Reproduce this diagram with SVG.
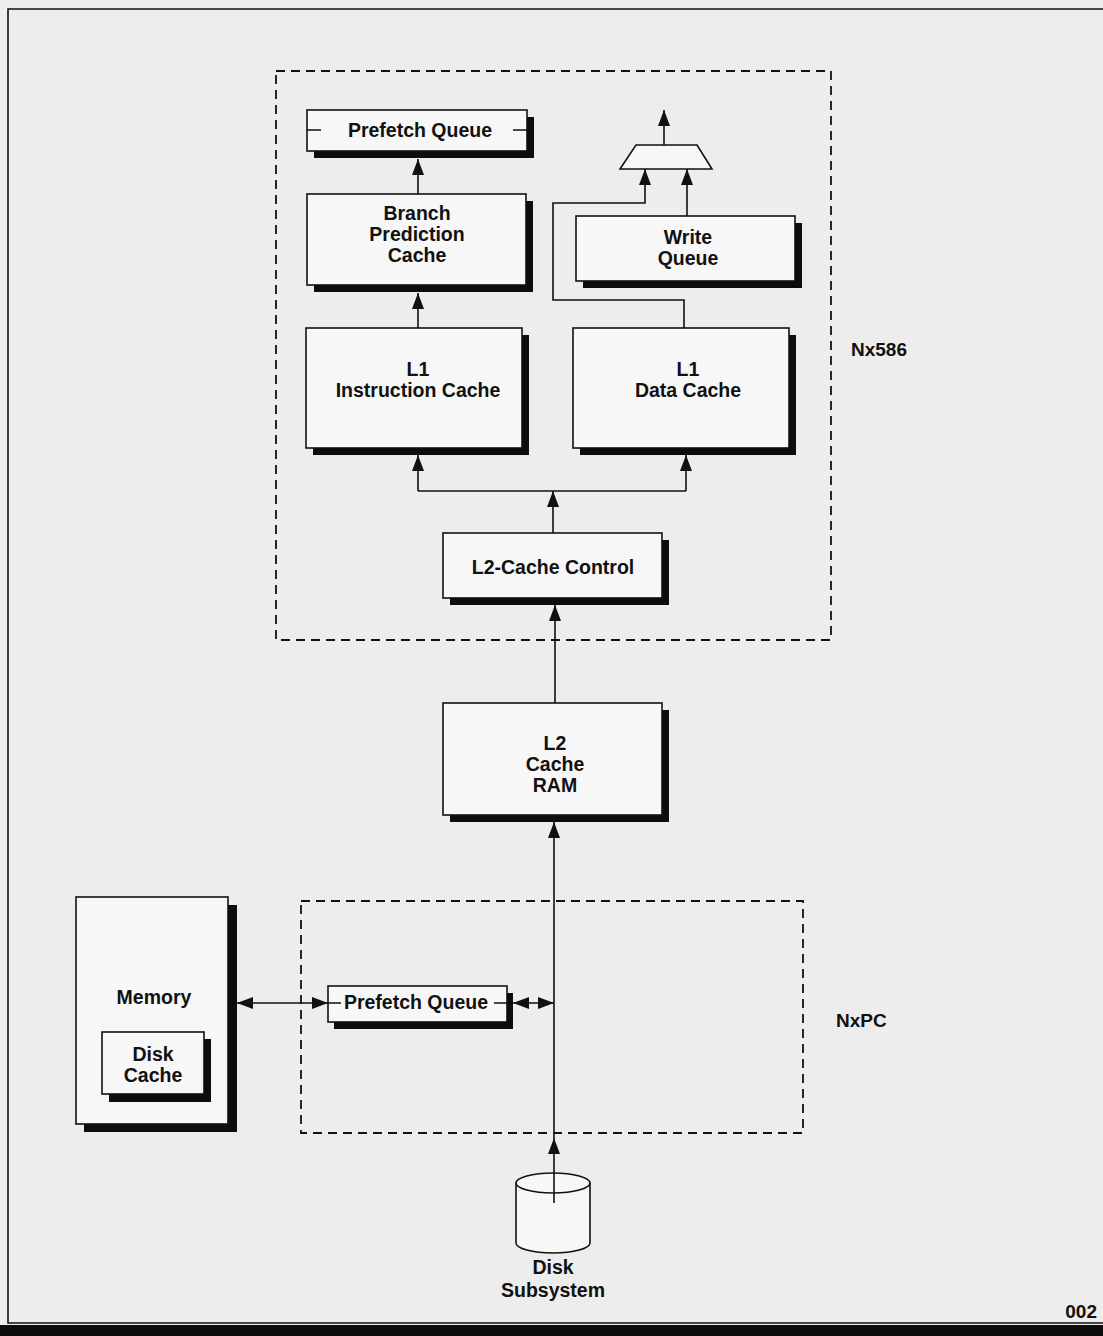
<svg xmlns="http://www.w3.org/2000/svg" width="1103" height="1336" viewBox="0 0 1103 1336">
<defs>
<style>
.bg{fill:#ededed}
.box{fill:#f7f7f7;stroke:#111;stroke-width:1.6}
.sh{fill:#0d0d0d}
.t{font-family:"Liberation Sans",Arial,Helvetica,sans-serif;font-weight:bold;font-size:19.5px;fill:#111;text-anchor:middle}
.lbl{font-family:"Liberation Sans",Arial,Helvetica,sans-serif;font-weight:bold;font-size:19px;fill:#111}
.ln{fill:none;stroke:#111;stroke-width:1.6}
.dash{fill:none;stroke:#111;stroke-width:1.8;stroke-dasharray:9 6}
</style>
<marker id="arr" markerUnits="userSpaceOnUse" markerWidth="17" markerHeight="12" refX="16" refY="6" orient="auto-start-reverse" viewBox="0 0 17 12">
<path d="M0,0 L16,6 L0,12 z" fill="#111"/>
</marker>
</defs>
<rect class="bg" x="0" y="0" width="1103" height="1336"/>
<!-- page frame -->
<path class="ln" d="M1103,9 H8 V1323 H1103" stroke-width="1.8"/>
<rect x="0" y="1325" width="1103" height="11" fill="#0d0d0d"/>
<text class="lbl" x="1097" y="1318" font-size="15" text-anchor="end">002</text>

<g id="nx586">
<rect class="dash" x="276" y="71" width="555" height="569"/>
<text class="lbl" x="851" y="356">Nx586</text>
</g>
<g id="nxpc">
<rect class="dash" x="301" y="901" width="502" height="232"/>
<text class="lbl" x="836" y="1027">NxPC</text>
</g>

<g id="prefetch-top">
<rect class="sh" x="314" y="117" width="220" height="41"/>
<rect class="box" x="307" y="110" width="220" height="41"/>
<path class="ln" d="M307,130 H321 M513,130 H527"/>
<text class="t" x="420" y="137">Prefetch Queue</text>
</g>

<g id="branch-prediction">
<rect class="sh" x="314" y="201" width="219" height="91"/>
<rect class="box" x="307" y="194" width="219" height="91"/>
<text class="t" x="417" y="220">Branch</text>
<text class="t" x="417" y="241">Prediction</text>
<text class="t" x="417" y="262">Cache</text>
</g>

<g id="mux">
<path class="box" d="M620,169 L636,145 L697,145 L712,169 Z"/>
</g>

<g id="write-queue">
<rect class="sh" x="583" y="223" width="219" height="65"/>
<rect class="box" x="576" y="216" width="219" height="65"/>
<text class="t" x="688" y="244">Write</text>
<text class="t" x="688" y="265">Queue</text>
</g>

<g id="l1-instruction">
<rect class="sh" x="313" y="335" width="216" height="120"/>
<rect class="box" x="306" y="328" width="216" height="120"/>
<text class="t" x="418" y="376">L1</text>
<text class="t" x="418" y="397">Instruction Cache</text>
</g>

<g id="l1-data">
<rect class="sh" x="580" y="335" width="216" height="120"/>
<rect class="box" x="573" y="328" width="216" height="120"/>
<text class="t" x="688" y="376">L1</text>
<text class="t" x="688" y="397">Data Cache</text>
</g>

<g id="l2-control">
<rect class="sh" x="450" y="540" width="219" height="65"/>
<rect class="box" x="443" y="533" width="219" height="65"/>
<text class="t" x="553" y="574">L2-Cache Control</text>
</g>

<g id="l2-ram">
<rect class="sh" x="450" y="710" width="219" height="112"/>
<rect class="box" x="443" y="703" width="219" height="112"/>
<text class="t" x="555" y="750">L2</text>
<text class="t" x="555" y="771">Cache</text>
<text class="t" x="555" y="792">RAM</text>
</g>

<g id="memory">
<rect class="sh" x="84" y="905" width="153" height="227"/>
<rect class="box" x="76" y="897" width="152" height="227"/>
<text class="t" x="154" y="1004">Memory</text>
<g id="disk-cache">
<rect class="sh" x="109" y="1039" width="102" height="63"/>
<rect class="box" x="102" y="1032" width="102" height="62"/>
<text class="t" x="153" y="1061">Disk</text>
<text class="t" x="153" y="1082">Cache</text>
</g>
</g>

<g id="prefetch-bottom">
<rect class="sh" x="334" y="993" width="179" height="36"/>
<rect class="box" x="328" y="986" width="179" height="36"/>
<path class="ln" d="M328,1003 H341 M494,1003 H507"/>
<text class="t" x="416" y="1009">Prefetch Queue</text>
</g>

<g id="disk-subsystem">
<path class="box" d="M516,1183 V1243 A37,10 0 0 0 590,1243 V1183"/>
<ellipse class="box" cx="553" cy="1183" rx="37" ry="10"/>
<text class="t" x="553" y="1274">Disk</text>
<text class="t" x="553" y="1297">Subsystem</text>
</g>

<g id="connectors">
<path class="ln" d="M418,194 V159" marker-end="url(#arr)"/>
<path class="ln" d="M418,328 V293" marker-end="url(#arr)"/>
<path class="ln" d="M687,216 V169" marker-end="url(#arr)"/>
<path class="ln" d="M684,328 V300 H553 V203 H645 V169" marker-end="url(#arr)"/>
<path class="ln" d="M664,145 V110" marker-end="url(#arr)"/>
<path class="ln" d="M553,533 V491" marker-end="url(#arr)"/>
<path class="ln" d="M418,491 H686"/>
<path class="ln" d="M418,491 V455" marker-end="url(#arr)"/>
<path class="ln" d="M686,491 V455" marker-end="url(#arr)"/>
<path class="ln" d="M555,703 V605" marker-end="url(#arr)"/>
<path class="ln" d="M554,1138 V822" marker-end="url(#arr)"/>
<path class="ln" d="M554,1203 V1138" marker-end="url(#arr)"/>
<path class="ln" d="M237,1003 H328" marker-start="url(#arr)" marker-end="url(#arr)"/>
<path class="ln" d="M513,1003 H554" marker-start="url(#arr)" marker-end="url(#arr)"/>
</g>
</svg>
